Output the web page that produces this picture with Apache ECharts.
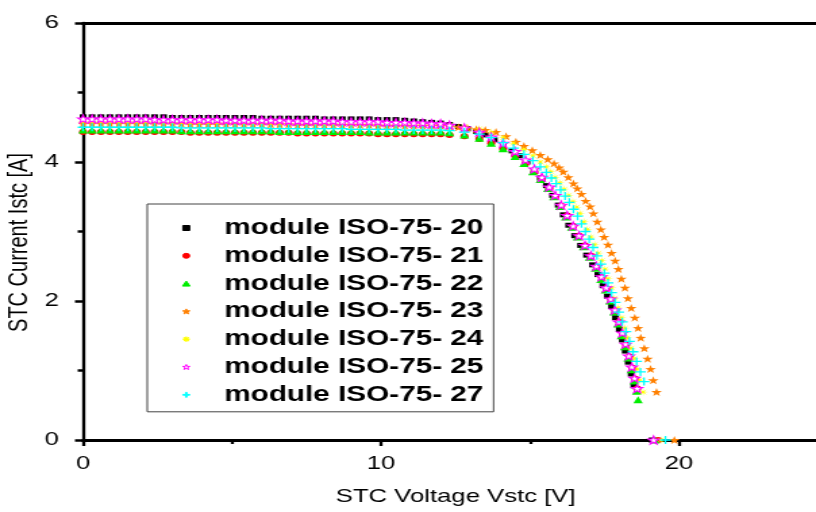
<!DOCTYPE html>
<html>
<head>
<meta charset="utf-8">
<script src="https://cdn.jsdelivr.net/npm/echarts@6/dist/echarts.min.js"></script>
<style>
html, body { margin: 0; padding: 0; background: #fff; overflow: hidden; }
/* the source picture is stretched sideways, so the chart is drawn narrow and widened */
#chart { width: 604px; height: 512px; transform: scaleX(1.351); transform-origin: 0 0; }
</style>
</head>
<body>
<div id="chart"></div>
<script>
const FONT = "'Liberation Sans', Arial, sans-serif";

const names = ['module ISO-75- 20', 'module ISO-75- 21', 'module ISO-75- 22', 'module ISO-75- 23',
  'module ISO-75- 24', 'module ISO-75- 25', 'module ISO-75- 27'];

// shared voltage sweep of the flat part [V]
const vFlat = [0, 0.3, 0.6, 0.9, 1.2, 1.5, 1.8, 2.1, 2.4, 2.7, 3, 3.3, 3.6, 3.9, 4.2, 4.5, 4.8, 5.1, 5.4, 5.7,
  6, 6.3, 6.6, 6.9, 7.2, 7.5, 7.8, 8.1, 8.4, 8.7, 9, 9.3, 9.6, 9.9, 10.2, 10.5, 10.8, 11.1, 11.4, 11.7, 12];

// currents on the flat part [A], one per vFlat value
const iFlat20 = [4.65, 4.65, 4.65, 4.65, 4.65, 4.65, 4.65, 4.65, 4.65, 4.65, 4.64, 4.64, 4.64, 4.64, 4.64, 4.64, 4.64, 4.64, 4.64, 4.64,
  4.63, 4.63, 4.63, 4.63, 4.63, 4.63, 4.63, 4.62, 4.62, 4.62, 4.62, 4.62, 4.62, 4.61, 4.61, 4.61, 4.60, 4.59, 4.58, 4.57, 4.56];
const iFlat21 = [4.43, 4.43, 4.43, 4.43, 4.43, 4.43, 4.43, 4.43, 4.43, 4.43, 4.43, 4.43, 4.42, 4.42, 4.42, 4.42, 4.42, 4.42, 4.42, 4.42,
  4.42, 4.42, 4.42, 4.42, 4.41, 4.41, 4.41, 4.41, 4.41, 4.41, 4.41, 4.41, 4.41, 4.40, 4.40, 4.40, 4.40, 4.40, 4.40, 4.40, 4.40];
const iFlat22 = [4.46, 4.46, 4.46, 4.46, 4.46, 4.46, 4.46, 4.46, 4.46, 4.46, 4.46, 4.45, 4.45, 4.45, 4.45, 4.45, 4.45, 4.45, 4.45, 4.45,
  4.45, 4.45, 4.44, 4.44, 4.44, 4.44, 4.44, 4.44, 4.44, 4.44, 4.44, 4.44, 4.43, 4.43, 4.43, 4.43, 4.43, 4.43, 4.43, 4.43, 4.43];
const iFlat23 = [4.55, 4.55, 4.55, 4.55, 4.55, 4.55, 4.55, 4.55, 4.55, 4.55, 4.55, 4.55, 4.54, 4.54, 4.54, 4.54, 4.54, 4.54, 4.54, 4.54,
  4.54, 4.54, 4.54, 4.54, 4.53, 4.53, 4.53, 4.53, 4.53, 4.53, 4.53, 4.53, 4.53, 4.52, 4.52, 4.52, 4.52, 4.52, 4.52, 4.52, 4.52];
const iFlat24 = [4.58, 4.58, 4.58, 4.58, 4.58, 4.58, 4.58, 4.58, 4.58, 4.57, 4.57, 4.57, 4.57, 4.57, 4.57, 4.57, 4.57, 4.57, 4.56, 4.56,
  4.56, 4.56, 4.56, 4.56, 4.56, 4.56, 4.55, 4.55, 4.55, 4.55, 4.55, 4.55, 4.55, 4.54, 4.54, 4.54, 4.54, 4.54, 4.54, 4.54, 4.54];
const iFlat25 = [4.62, 4.62, 4.62, 4.62, 4.62, 4.62, 4.62, 4.62, 4.61, 4.61, 4.61, 4.61, 4.61, 4.61, 4.61, 4.61, 4.60, 4.60, 4.60, 4.60,
  4.60, 4.60, 4.60, 4.59, 4.59, 4.59, 4.59, 4.59, 4.59, 4.58, 4.58, 4.58, 4.58, 4.58, 4.57, 4.57, 4.57, 4.56, 4.56, 4.55, 4.55];
const iFlat27 = [4.50, 4.50, 4.50, 4.50, 4.50, 4.50, 4.50, 4.50, 4.50, 4.50, 4.50, 4.49, 4.49, 4.49, 4.49, 4.49, 4.49, 4.49, 4.49, 4.49,
  4.49, 4.48, 4.48, 4.48, 4.48, 4.48, 4.48, 4.48, 4.48, 4.48, 4.47, 4.47, 4.47, 4.47, 4.47, 4.47, 4.46, 4.46, 4.46, 4.46, 4.46];

// knee and tail, [V, A]; last point is the open-circuit point on the axis
const knee20 = [[12.3, 4.54], [12.6, 4.51], [12.9, 4.48], [13.2, 4.44], [13.5, 4.39], [13.8, 4.32], [14.1, 4.24], [14.4, 4.16],
  [14.64, 4.09], [14.9, 4.00], [15.14, 3.88], [15.35, 3.77], [15.55, 3.66], [15.76, 3.52], [15.95, 3.38], [16.12, 3.24],
  [16.3, 3.09], [16.5, 2.94], [16.7, 2.80], [16.9, 2.66], [17.1, 2.52], [17.28, 2.38], [17.45, 2.22], [17.6, 2.07],
  [17.74, 1.92], [17.87, 1.76], [18.0, 1.59], [18.1, 1.44], [18.2, 1.28], [18.3, 1.12], [18.4, 0.95], [18.49, 0.78], [19.1, 0]];
const knee21 = [[12.3, 4.39], [12.8, 4.37], [13.3, 4.33], [13.7, 4.27], [14.1, 4.19], [14.5, 4.09], [14.85, 3.98], [15.15, 3.86],
  [15.4, 3.75], [15.65, 3.62], [15.85, 3.50], [16.05, 3.37], [16.25, 3.23], [16.45, 3.08], [16.65, 2.94], [16.85, 2.80],
  [17.05, 2.65], [17.25, 2.49], [17.42, 2.34], [17.58, 2.18], [17.73, 2.02], [17.87, 1.86], [18.0, 1.70], [18.12, 1.53],
  [18.23, 1.37], [18.34, 1.20], [18.44, 1.04], [18.53, 0.88], [18.6, 0.74], [19.3, 0]];
const knee22 = [[12.3, 4.42], [12.8, 4.39], [13.3, 4.34], [13.7, 4.27], [14.1, 4.19], [14.5, 4.08], [14.8, 3.98], [15.1, 3.86],
  [15.35, 3.75], [15.6, 3.62], [15.8, 3.50], [16.0, 3.36], [16.2, 3.21], [16.4, 3.06], [16.6, 2.92], [16.8, 2.78],
  [17.0, 2.63], [17.2, 2.47], [17.38, 2.31], [17.53, 2.16], [17.68, 2.00], [17.82, 1.84], [17.95, 1.67], [18.07, 1.50],
  [18.18, 1.34], [18.29, 1.18], [18.4, 1.01], [18.5, 0.85], [18.58, 0.70], [18.63, 0.58], [19.2, 0]];
const knee23 = [[12.3, 4.51], [12.6, 4.50], [12.9, 4.49], [13.2, 4.47], [13.5, 4.46], [13.86, 4.43], [14.2, 4.37], [14.53, 4.29],
  [14.8, 4.23], [15.08, 4.17], [15.35, 4.10], [15.6, 4.04], [15.81, 3.98], [15.98, 3.92], [16.12, 3.86], [16.29, 3.78],
  [16.46, 3.69], [16.59, 3.62], [16.73, 3.54], [16.87, 3.44], [17.02, 3.36], [17.13, 3.26], [17.26, 3.14], [17.38, 3.03],
  [17.49, 2.92], [17.62, 2.81], [17.74, 2.69], [17.86, 2.58], [17.97, 2.46], [18.07, 2.32], [18.19, 2.19], [18.29, 2.04],
  [18.40, 1.90], [18.52, 1.76], [18.63, 1.61], [18.72, 1.47], [18.84, 1.32], [18.95, 1.17], [19.05, 1.02], [19.14, 0.86],
  [19.25, 0.69], [19.85, 0]];
const knee24 = [[12.3, 4.53], [12.8, 4.51], [13.3, 4.48], [13.7, 4.43], [14.1, 4.35], [14.45, 4.27], [14.8, 4.18], [15.1, 4.09],
  [15.35, 4.00], [15.55, 3.93], [15.7, 3.86], [15.85, 3.78], [16.0, 3.70], [16.15, 3.61], [16.3, 3.52], [16.44, 3.43],
  [16.57, 3.35], [16.68, 3.26], [16.81, 3.14], [16.93, 3.03], [17.04, 2.92], [17.17, 2.81], [17.29, 2.69], [17.41, 2.58],
  [17.52, 2.46], [17.62, 2.32], [17.74, 2.19], [17.84, 2.04], [17.95, 1.90], [18.07, 1.76], [18.18, 1.61], [18.27, 1.47],
  [18.39, 1.32], [18.5, 1.17], [18.6, 1.02], [18.69, 0.86], [18.8, 0.69], [19.4, 0]];
const knee25 = [[12.3, 4.53], [12.8, 4.49], [13.3, 4.43], [13.7, 4.36], [14.1, 4.27], [14.5, 4.15], [14.85, 4.03], [15.15, 3.90],
  [15.4, 3.78], [15.65, 3.64], [15.85, 3.52], [16.05, 3.38], [16.25, 3.23], [16.45, 3.08], [16.65, 2.94], [16.85, 2.80],
  [17.05, 2.65], [17.23, 2.50], [17.4, 2.35], [17.56, 2.19], [17.71, 2.03], [17.85, 1.87], [17.98, 1.70], [18.1, 1.54],
  [18.21, 1.38], [18.32, 1.21], [18.42, 1.05], [18.51, 0.89], [18.6, 0.74], [19.15, 0]];
const knee27 = [[12.3, 4.45], [12.8, 4.43], [13.3, 4.40], [13.7, 4.35], [14.1, 4.28], [14.45, 4.20], [14.8, 4.11], [15.1, 4.02],
  [15.35, 3.93], [15.55, 3.85], [15.72, 3.77], [15.88, 3.69], [16.03, 3.60], [16.18, 3.51], [16.32, 3.42], [16.46, 3.32],
  [16.6, 3.22], [16.73, 3.11], [16.86, 3.00], [16.99, 2.89], [17.12, 2.77], [17.25, 2.65], [17.38, 2.53], [17.5, 2.40],
  [17.62, 2.26], [17.74, 2.12], [17.86, 1.98], [17.98, 1.84], [18.1, 1.70], [18.22, 1.56], [18.34, 1.42], [18.46, 1.27],
  [18.58, 1.13], [18.71, 0.98], [18.83, 0.84], [19.55, 0]];

const xTicks = { min: 0, max: 30, interval: 10 };
const yTicks = { min: 0, max: 6, interval: 2 };

// marker shapes (all paths, so the legend keeps their aspect)
const SQUARE = 'path://M-5,-5H5V5H-5Z';
const TRI = 'path://M0,-5L5,4L-5,4Z';
const STAR = 'path://M0,-10L2.35,-3.24L9.51,-3.09L3.8,1.24L5.88,8.09L0,4L-5.88,8.09L-3.8,1.24L-9.51,-3.09L-2.35,-3.24Z';
const PLUS = 'path://M-0.8,-5H0.8V-0.8H5V0.8H0.8V5H-0.8V0.8H-5V-0.8H-0.8Z';
const ASTER = 'path://M5,0L1.11,0.46L3.54,3.54L0.46,1.11L0,5L-0.46,1.11L-3.54,3.54L-1.11,0.46L-5,0L-1.11,-0.46' +
  'L-3.54,-3.54L-0.46,-1.11L0,-5L0.46,-1.11L3.54,-3.54L1.11,-0.46Z';

const seriesDefs = [
  { flat: iFlat20, knee: knee20, symbol: SQUARE, size: 5, color: '#000000' },
  { flat: iFlat21, knee: knee21, symbol: 'circle', size: 6, color: '#ff0000' },
  { flat: iFlat22, knee: knee22, symbol: TRI, size: 7, color: '#00ee00' },
  { flat: iFlat23, knee: knee23, symbol: STAR, size: 8, color: '#ff8000' },
  { flat: iFlat24, knee: knee24, symbol: ASTER, size: 8, color: '#ffff00' },
  { flat: iFlat25, knee: knee25, symbol: STAR, size: 8, color: '#ffffff', border: '#ff00ff' },
  { flat: iFlat27, knee: knee27, symbol: PLUS, size: 8, color: '#00ffff' }
];

const myChart = echarts.init(document.getElementById('chart'));

const option = {
  animation: false,
  backgroundColor: '#ffffff',
  grid: { left: 61.5, top: 23, bottom: 72, right: -119, outerBoundsMode: 'none', containLabel: false },
  // y title drawn as plain rotated text (the axis name would not sit where it should)
  graphic: [{
    type: 'text',
    x: 14.5,
    y: 242.5,
    rotation: Math.PI / 2,
    style: {
      text: 'STC Current Istc [A]',
      fontSize: 20,
      fontFamily: FONT,
      fill: '#000',
      align: 'center',
      verticalAlign: 'middle'
    }
  }],
  legend: {
    orient: 'vertical',
    left: 109,
    top: 204,
    padding: [13, 7.5, 6, 25.6],
    itemWidth: 46,
    itemHeight: 5,
    itemGap: 5.8,
    backgroundColor: '#ffffff',
    borderColor: '#444444',
    borderWidth: 1,
    itemStyle: { borderWidth: 1 },
    textStyle: { fontSize: 22, fontWeight: 'bold', color: '#000', fontFamily: FONT },
    data: names
  },
  xAxis: [
    {
      type: 'value',
      min: xTicks.min, max: xTicks.max, interval: xTicks.interval,
      name: 'STC Voltage Vstc [V]',
      nameLocation: 'middle',
      nameGap: 47,
      nameTextStyle: { fontSize: 19, color: '#000', fontFamily: FONT, padding: [0, 110, 0, 0] },
      axisLine: { show: true, onZero: false, lineStyle: { color: '#000', width: 3 } },
      axisTick: { show: true, length: 6, lineStyle: { color: '#000', width: 2.3 } },
      minorTick: { show: true, splitNumber: 2, length: 4, lineStyle: { color: '#000', width: 2.3 } },
      axisLabel: { fontSize: 19, color: '#000', margin: 14, fontFamily: FONT, showMaxLabel: false },
      splitLine: { show: false }
    },
    {
      type: 'value', position: 'top',
      min: xTicks.min, max: xTicks.max,
      axisLine: { show: true, onZero: false, lineStyle: { color: '#000', width: 3 } },
      axisTick: { show: false }, axisLabel: { show: false }, splitLine: { show: false }
    }
  ],
  yAxis: {
    type: 'value',
    min: yTicks.min, max: yTicks.max, interval: yTicks.interval,
    axisLine: { show: true, lineStyle: { color: '#000', width: 2.3 } },
    axisTick: { show: true, length: 6, lineStyle: { color: '#000', width: 2.5 } },
    minorTick: { show: true, splitNumber: 2, length: 4, lineStyle: { color: '#000', width: 2.5 } },
    axisLabel: { fontSize: 19, color: '#000', margin: 18, fontFamily: FONT },
    splitLine: { show: false }
  },
  series: seriesDefs.map((d, k) => ({
    type: 'scatter',
    name: names[k],
    xAxisIndex: 0,
    symbol: d.symbol,
    symbolSize: d.size,
    clip: false,
    itemStyle: {
      color: d.color,
      opacity: 1,
      borderColor: d.border || d.color,
      borderWidth: d.border ? 1.1 : 0
    },
    emphasis: { disabled: true },
    data: vFlat.map((v, j) => [v, d.flat[j]]).concat(d.knee)
  }))
};

option && myChart.setOption(option);
</script>
</body>
</html>
